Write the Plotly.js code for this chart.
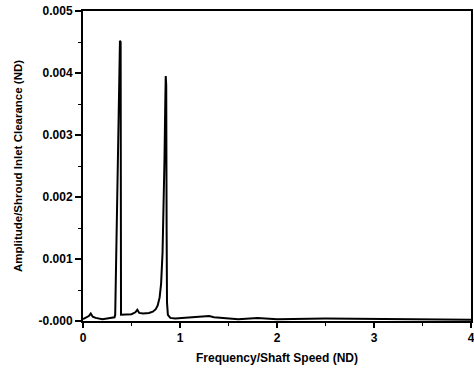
<!DOCTYPE html>
<html>
<head>
<meta charset="utf-8">
<script src="https://cdn.plot.ly/plotly-3.0.1.min.js"></script>
<style>html,body{margin:0;padding:0;background:#fff;}#chart{width:474px;height:371px;}</style>
</head>
<body>
<div id="chart"></div>
<script>
const freq = [0, 0.03, 0.06, 0.08, 0.1, 0.13, 0.2, 0.28, 0.325, 0.332, 0.381, 0.388, 0.392, 0.396, 0.42, 0.5, 0.54, 0.56, 0.58, 0.62, 0.68, 0.72, 0.75, 0.77, 0.79, 0.805, 0.82, 0.83, 0.84, 0.848, 0.853, 0.858, 0.862, 0.866, 0.875, 0.9, 0.95, 1.05, 1.2, 1.3, 1.35, 1.45, 1.6, 1.8, 2.0, 2.5, 3.0, 3.5, 4.0];
const amp = [0.00003, 0.00005, 0.00008, 0.00012, 0.00007, 0.00005, 0.00003, 0.00005, 0.00006, 0.0001, 0.00452, 0.0045, 0.0001, 0.0001, 0.0001, 0.00011, 0.00014, 0.00018, 0.00013, 0.00012, 0.00013, 0.00015, 0.00019, 0.00025, 0.00038, 0.0006, 0.0011, 0.0017, 0.0026, 0.0035, 0.00395, 0.0038, 0.0015, 0.0003, 0.0001, 0.00005, 0.00004, 0.00005, 0.00006, 0.00008, 0.00006, 0.00005, 0.00003, 0.00005, 0.00003, 0.00004, 0.00003, 0.00002, 0.00002];
const yTickVals = [0, 0.001, 0.002, 0.003, 0.004, 0.005];
const yTickText = ["-0.000", "0.001", "0.002", "0.003", "0.004", "0.005"];
const xTickVals = [0, 1, 2, 3, 4];
const xTickText = ["0", "1", "2", "3", "4"];

const fontFam = "Liberation Sans, Arial, sans-serif";
const trace = {
  x: freq, y: amp, type: "scatter", mode: "lines",
  line: {color: "#000", width: 2}, hoverinfo: "none"
};
const layout = {
  width: 474, height: 371,
  margin: {l: 83, r: 3, t: 11, b: 50},
  paper_bgcolor: "#fff", plot_bgcolor: "#fff",
  showlegend: false,
  font: {family: fontFam, color: "#000", size: 12, weight: "bold"},
  xaxis: {
    range: [0, 4], tickvals: xTickVals, ticktext: xTickText,
    showgrid: false, zeroline: false,
    showline: true, linecolor: "#000", linewidth: 2, mirror: true,
    ticks: "outside", ticklen: 5, tickwidth: 1.5, tickcolor: "#000",
    ticklabeloverflow: "allow",
    minor: {dtick: 0.5, ticks: "outside", ticklen: 3, tickwidth: 1, tickcolor: "#000"},
    tickfont: {family: fontFam, size: 12, weight: "bold"},
    title: {text: "Frequency/Shaft Speed (ND)", font: {family: fontFam, size: 12, weight: "bold"}, standoff: 9}
  },
  yaxis: {
    range: [0, 0.005], tickvals: yTickVals, ticktext: yTickText,
    showgrid: false, zeroline: false,
    showline: true, linecolor: "#000", linewidth: 2, mirror: true,
    ticks: "outside", ticklen: 6, tickwidth: 1.5, tickcolor: "#000",
    minor: {dtick: 0.0005, ticks: "outside", ticklen: 3, tickwidth: 1, tickcolor: "#000"},
    tickfont: {family: fontFam, size: 12, weight: "bold"},
    title: {text: "Amplitude/Shroud Inlet Clearance (ND)", font: {family: fontFam, size: 11.5, weight: "bold"}, standoff: 14}
  }
};
Plotly.newPlot("chart", [trace], layout, {staticPlot: true, displayModeBar: false});
</script>
</body>
</html>
